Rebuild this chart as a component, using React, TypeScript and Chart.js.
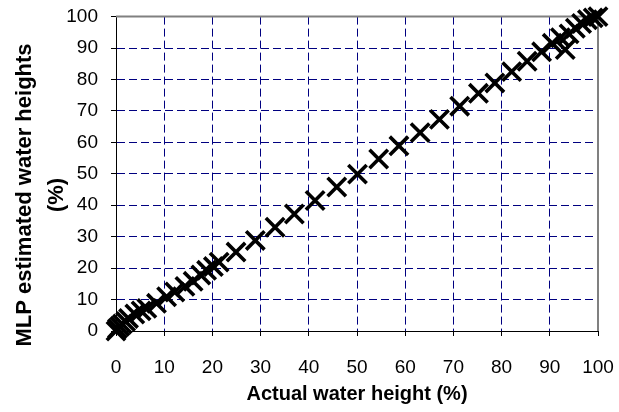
import React, { useEffect, useRef } from "react";
import { Chart, registerables } from "chart.js";

Chart.register(...registerables);

// Actual water height (%)
const actualHeights = [
  0, 0.3, 0.8, 1.3, 2, 2.6, 3.9, 5.2, 6.4, 8.4, 10.5, 12.2, 14.3, 16, 17.6, 18.8, 20.2, 21.4,
  24.9, 28.9, 33, 37, 41.3, 45.8, 50.1, 54.5, 58.7, 63.1, 67.1, 71.3, 75.2, 78.6, 82.1, 85.3,
  88.3, 90.5, 92.2, 93.2, 94, 95.3, 96.6, 97.8, 99, 100,
];
// MLP estimated water heights (%)
const estimatedHeights = [
  0, 0.8, 1.5, 2.2, 3, 4, 5.4, 6.4, 7.2, 8.8, 10.9, 12.4, 14.2, 15.8, 17.8, 19.3, 20.5, 21.9,
  25.1, 28.8, 33, 37.2, 41.5, 45.8, 49.9, 54.7, 58.9, 63.1, 67.3, 71.5, 75.6, 78.9, 82.5, 85.8,
  88.8, 91.5, 93.3, 89.5, 94.5, 96.3, 97.8, 99, 99.6, 100,
];
const xAxisTitle = "Actual water height (%)";
const yAxisTitle = ["MLP estimated water heights", "(%)"];
const axisMin = 0;
const axisMax = 100;
const tickStep = 10;

const FONT = "'Liberation Sans', Arial, sans-serif";
const FONT_SIZE = 19;

export default function App() {
  const canvasRef = useRef<HTMLCanvasElement | null>(null);

  useEffect(() => {
    const canvas = canvasRef.current;
    if (!canvas) return;

    const framePlugin = {
      id: "frame",
      beforeDatasetsDraw(chart: any) {
        const { ctx, chartArea } = chart;
        const { left, right, top, bottom } = chartArea;
        ctx.save();
        ctx.strokeStyle = "#808080";
        ctx.lineWidth = 2;
        ctx.beginPath();
        ctx.moveTo(left, top);
        ctx.lineTo(right, top);
        ctx.lineTo(right, bottom);
        ctx.stroke();
        ctx.restore();
      },
      afterDraw(chart: any) {
        const { ctx } = chart;
        ctx.save();
        ctx.font = `bold 22px ${FONT}`;
        ctx.fillStyle = "#000";
        ctx.textAlign = "center";
        ctx.textBaseline = "middle";
        ctx.translate(25, 195);
        ctx.rotate(-Math.PI / 2);
        yAxisTitle.forEach((line, i) => ctx.fillText(line, 0, i * 32));
        ctx.restore();
      },
    };

    const data = actualHeights.map((x, i) => ({ x, y: estimatedHeights[i] }));

    const chart = new Chart(canvas, {
      type: "scatter",
      data: {
        datasets: [
          {
            data,
            pointStyle: "crossRot",
            pointRadius: 13,
            pointHoverRadius: 13,
            pointBorderWidth: 3.6,
            borderColor: "#000",
            backgroundColor: "#000",
            pointBorderColor: "#000",
            clip: false as any,
          } as any,
        ],
      },
      options: {
        responsive: false,
        animation: false,
        events: [],
        layout: { padding: { top: 15, right: 21, left: 0, bottom: 0 } },
        plugins: {
          legend: { display: false },
          tooltip: { enabled: false },
        },
        scales: {
          x: {
            type: "linear",
            min: axisMin,
            max: axisMax,
            afterFit: (scale: any) => {
              scale.height = 81;
              scale.paddingLeft = 0;
              scale.paddingRight = 0;
            },
            ticks: {
              stepSize: tickStep,
              color: "#000",
              padding: 20,
              font: { family: FONT, size: FONT_SIZE },
            },
            grid: {
              color: "#000080",
              lineWidth: 1,
              tickLength: 5,
              tickColor: "#000",
              tickBorderDash: [],
            },
            border: { color: "#000", width: 1, dash: [8, 4] },
            title: {
              display: true,
              text: xAxisTitle,
              color: "#000",
              font: { family: FONT, size: 20, weight: "bold" },
              padding: { top: 0, bottom: 6 },
            },
          },
          y: {
            type: "linear",
            min: axisMin,
            max: axisMax,
            afterFit: (scale: any) => {
              scale.width = 116;
              scale.paddingTop = 0;
              scale.paddingBottom = 0;
            },
            ticks: {
              stepSize: tickStep,
              color: "#000",
              padding: 13,
              font: { family: FONT, size: FONT_SIZE },
            },
            grid: {
              color: "#000080",
              lineWidth: 1,
              tickLength: 5,
              tickColor: "#000",
              tickBorderDash: [],
            },
            border: { color: "#000", width: 1, dash: [8, 4] },
          },
        },
      },
      plugins: [framePlugin],
    } as any);

    return () => chart.destroy();
  }, []);

  return (
    <div style={{ position: "absolute", left: 0, top: 0, width: 619, height: 412 }}>
      <canvas ref={canvasRef} width={619} height={412} />
    </div>
  );
}
